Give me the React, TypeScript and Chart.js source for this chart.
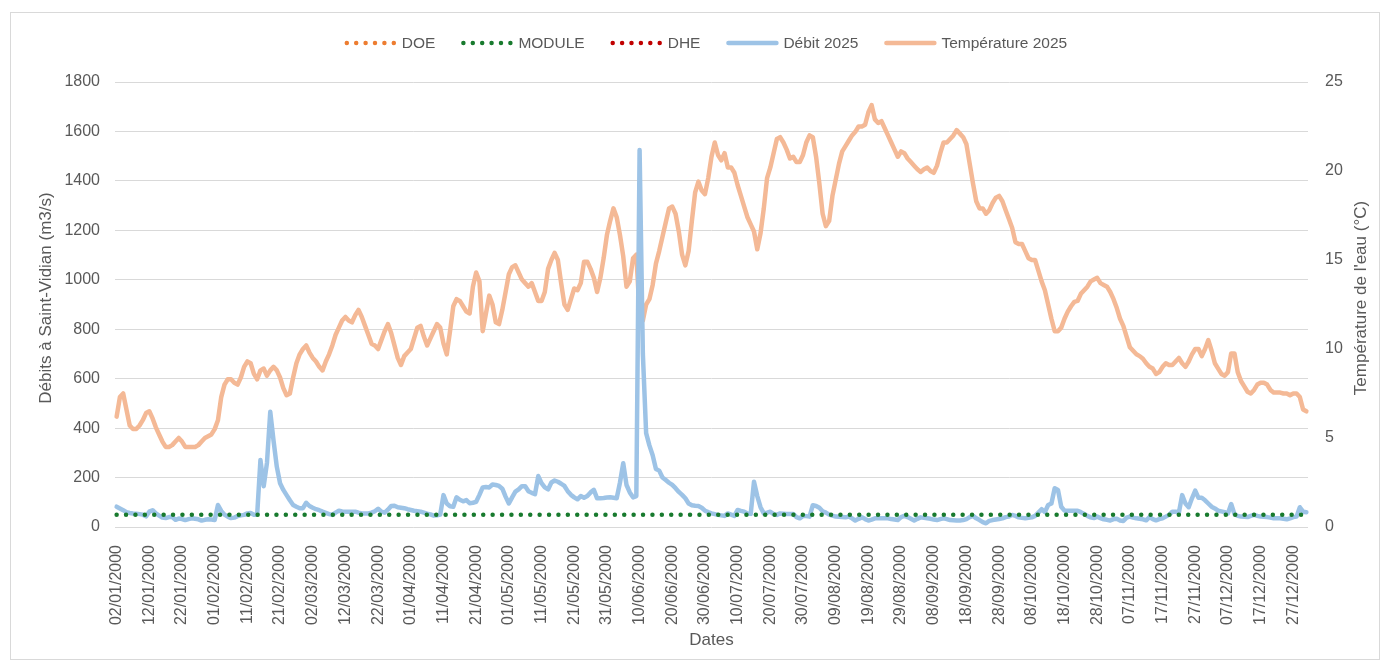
import React, { useEffect, useRef } from "react";
import { Chart, registerables } from "chart.js";

Chart.register(...registerables);

// ---------- DATA ----------
const START_DATE_UTC = Date.UTC(2000, 0, 2); // 02/01/2000
const DAY_COUNT = 365;
const TICK_EVERY = 10;

const LEFT_AXIS = { min: 0, max: 1800, step: 200 };
const RIGHT_AXIS = { min: 0, max: 25, step: 5 };

const MODULE_VALUE = 50;
const DOE_VALUES: (number | null)[] = [];
const DHE_VALUES: (number | null)[] = [];

const DEBIT_2025 = [
  82, 75, 68, 60, 57, 55, 54, 52, 50, 43,
  62, 68, 55, 46, 38, 36, 40, 40, 29, 34,
  32, 28, 32, 35, 33, 31, 26, 29, 31, 30,
  28, 89, 65, 50, 42, 36, 38, 44, 47, 49,
  55, 57, 50, 50, 271, 165, 260, 466, 350, 244,
  177, 150, 129, 108, 89, 82, 76, 76, 98, 85,
  78, 72, 68, 62, 57, 52, 49, 58, 66, 63,
  62, 62, 62, 62, 58, 55, 55, 55, 58, 64,
  74, 62, 58, 70, 85, 86, 80, 78, 76, 72,
  69, 66, 64, 62, 58, 54, 51, 46, 47, 50,
  129, 95, 84, 82, 120, 110, 104, 109, 96, 98,
  102, 130, 160, 162, 160, 172, 170, 166, 155, 123,
  95, 120, 143, 152, 165, 165, 145, 138, 133, 206,
  177, 160, 152, 180, 188, 183, 175, 166, 145, 130,
  120, 112, 125, 118, 125, 140, 150, 116, 116, 117,
  119, 120, 118, 116, 180, 258, 170, 140, 120, 125,
  1525, 700, 380, 330, 290, 235, 228, 200, 190, 179,
  170, 157, 142, 130, 116, 95, 88, 86, 85, 78,
  66, 60, 55, 52, 49, 47, 45, 55, 50, 45,
  69, 65, 62, 55, 53, 183, 125, 80, 55, 58,
  62, 52, 49, 55, 54, 53, 53, 53, 40, 35,
  45, 44, 42, 88, 85, 78, 64, 58, 50, 46,
  42, 41, 40, 39, 42, 35, 26, 33, 39, 32,
  26, 30, 35, 35, 35, 35, 35, 32, 30, 28,
  40, 45, 40, 33, 26, 33, 39, 37, 35, 33,
  30, 28, 32, 35, 32, 28, 27, 26, 26, 28,
  32, 40, 45, 35, 28, 20, 15, 25, 28, 30,
  32, 35, 40, 42, 49, 45, 39, 37, 35, 37,
  39, 45, 58, 72, 60, 89, 95, 157, 150, 82,
  66, 66, 66, 66, 66, 60, 53, 45, 39, 36,
  42, 36, 31, 29, 26, 32, 33, 26, 24, 38,
  42, 38, 35, 33, 31, 27, 40, 32, 27, 32,
  35, 42, 49, 62, 62, 58, 129, 95, 80, 116,
  147, 118, 118, 108, 95, 82, 75, 66, 63, 60,
  55, 93, 52, 45, 42, 41, 40, 45, 49, 45,
  42, 41, 40, 38, 35, 35, 35, 33, 31, 35,
  40, 42, 80, 62, 60,
];

const TEMPERATURE_2025 = [
  6.2, 7.3, 7.5, 6.6, 5.7, 5.5, 5.5, 5.7, 6.0, 6.4,
  6.5, 6.1, 5.6, 5.2, 4.8, 4.5, 4.5, 4.6, 4.8, 5.0,
  4.8, 4.5, 4.5, 4.5, 4.5, 4.6, 4.8, 5.0, 5.1, 5.2,
  5.5, 6.0, 7.3, 8.0, 8.3, 8.3, 8.1, 8.0, 8.4, 9.0,
  9.3, 9.2, 8.6, 8.3, 8.8, 8.9, 8.5, 8.8, 9.0, 8.8,
  8.4, 7.8, 7.4, 7.5, 8.4, 9.2, 9.7, 10.0, 10.2, 9.8,
  9.5, 9.3, 9.0, 8.8, 9.3, 9.7, 10.2, 10.8, 11.2, 11.6,
  11.8, 11.6, 11.5, 11.9, 12.2, 11.8, 11.3, 10.8, 10.3, 10.2,
  10.0, 10.5, 11.0, 11.4, 10.9, 10.2, 9.5, 9.1, 9.6, 9.8,
  10.0, 10.6, 11.2, 11.3, 10.7, 10.2, 10.6, 11.0, 11.4, 11.2,
  10.3, 9.7, 11.0, 12.4, 12.8, 12.7, 12.4, 12.1, 12.0, 13.5,
  14.3, 13.8, 11.0, 12.0, 13.0, 12.5, 11.5, 11.4, 12.2, 13.2,
  14.2, 14.6, 14.7, 14.3, 13.9, 13.7, 13.5, 13.7, 13.2, 12.7,
  12.7, 13.2, 14.5, 15.0, 15.4, 15.0, 13.7, 12.5, 12.2, 12.8,
  13.4, 13.3, 13.7, 14.9, 14.9, 14.5, 14.0, 13.2, 14.0, 15.1,
  16.4, 17.2, 17.9, 17.4, 16.4, 15.2, 13.5, 13.8, 15.1, 15.3,
  12.0, 11.6, 12.5, 12.8, 13.6, 14.8, 15.5, 16.3, 17.1, 17.9,
  18.0, 17.6, 16.6, 15.3, 14.7, 15.5, 17.2, 18.8, 19.4, 18.9,
  18.7, 19.6, 20.8, 21.6, 20.9, 20.6, 21.0, 20.2, 20.2, 19.9,
  19.2, 18.6, 18.0, 17.4, 17.0, 16.6, 15.6, 16.5, 17.9, 19.6,
  20.2, 21.0, 21.8, 21.9, 21.6, 21.2, 20.7, 20.8, 20.5, 20.5,
  20.9, 21.6, 22.0, 21.9, 20.8, 19.3, 17.6, 16.9, 17.2, 18.6,
  19.5, 20.4, 21.1, 21.4, 21.7, 22.0, 22.2, 22.5, 22.5, 22.6,
  23.3, 23.7, 22.9, 22.7, 22.8, 22.4, 22.0, 21.6, 21.2, 20.8,
  21.1, 21.0, 20.7, 20.5, 20.3, 20.1, 19.95, 20.1, 20.2, 20.0,
  19.9, 20.3, 21.0, 21.6, 21.6, 21.8, 22.0, 22.3, 22.1, 21.9,
  21.5, 20.4, 19.3, 18.3, 17.9, 17.9, 17.6, 17.8, 18.2, 18.5,
  18.6, 18.3, 17.8, 17.3, 16.8, 16.0, 15.9, 15.9, 15.5, 15.1,
  15.0, 15.0, 14.4, 13.8, 13.3, 12.5, 11.7, 11.0, 11.0, 11.2,
  11.7, 12.1, 12.4, 12.65, 12.7, 13.1, 13.3, 13.5, 13.8, 13.9,
  14.0, 13.7, 13.6, 13.5, 13.2, 12.8, 12.3, 11.7, 11.3, 10.7,
  10.1, 9.9, 9.7, 9.6, 9.45, 9.2, 9.0, 8.9, 8.6, 8.7,
  9.0, 9.2, 9.1, 9.1, 9.3, 9.5, 9.2, 9.0, 9.3, 9.7,
  10.0, 10.0, 9.6, 10.0, 10.5, 9.9, 9.2, 8.9, 8.6, 8.5,
  8.7, 9.75, 9.75, 8.7, 8.2, 7.9, 7.6, 7.5, 7.7, 8.0,
  8.1, 8.1, 8.0, 7.7, 7.55, 7.55, 7.55, 7.5, 7.5, 7.4,
  7.5, 7.5, 7.3, 6.6, 6.5,
];

const SERIES_NAMES = ["DOE", "MODULE", "DHE", "Débit 2025", "Température 2025"];
const LEFT_TITLE = "Débits à Saint-Vidian (m3/s)";
const RIGHT_TITLE = "Température de l'eau (°C)";
const X_TITLE = "Dates";

// ---------- STYLE ----------
const FONT = '"Liberation Sans", Arial, sans-serif';
const TEXT = "#595959";
const GRID = "#d9d9d9";
const C_DOE = "#ed7d31";
const C_MODULE = "#187a2e";
const C_DHE = "#c00000";
const C_DEBIT = "#9dc3e6";
const C_TEMP = "#f4b996";

function pad2(n: number) {
  return n < 10 ? "0" + n : String(n);
}
function buildDates(): string[] {
  const out: string[] = [];
  for (let i = 0; i < DAY_COUNT; i++) {
    const d = new Date(START_DATE_UTC + i * 86400000);
    out.push(`${pad2(d.getUTCDate())}/${pad2(d.getUTCMonth() + 1)}/${d.getUTCFullYear()}`);
  }
  return out;
}
const DATES = buildDates();

const LEGEND_ITEMS = [
  { label: SERIES_NAMES[0], color: C_DOE, dotted: true },
  { label: SERIES_NAMES[1], color: C_MODULE, dotted: true },
  { label: SERIES_NAMES[2], color: C_DHE, dotted: true },
  { label: SERIES_NAMES[3], color: C_DEBIT, dotted: false },
  { label: SERIES_NAMES[4], color: C_TEMP, dotted: false },
];

const decorPlugin = {
  id: "decor",
  afterDraw(chart: any) {
    const ctx = chart.ctx as CanvasRenderingContext2D;
    const area = chart.chartArea;
    ctx.save();
    // Legend
    ctx.font = `15.5px ${FONT}`;
    const markerW = 52;
    const gapText = 5;
    const gapItem = 26;
    const widths = LEGEND_ITEMS.map((it) => markerW + gapText + ctx.measureText(it.label).width);
    const total = widths.reduce((a, b) => a + b, 0) + gapItem * (LEGEND_ITEMS.length - 1);
    let x = (area.left + area.right) / 2 - 5.5 - total / 2;
    const y = 30;
    LEGEND_ITEMS.forEach((it, i) => {
      ctx.beginPath();
      ctx.strokeStyle = it.color;
      ctx.lineCap = "round";
      if (it.dotted) {
        ctx.setLineDash([0, 9.4]);
        ctx.lineWidth = 4.5;
      } else {
        ctx.setLineDash([]);
        ctx.lineWidth = 4.5;
      }
      ctx.moveTo(x + 2, y);
      ctx.lineTo(x + markerW - 2, y);
      ctx.stroke();
      ctx.setLineDash([]);
      ctx.fillStyle = TEXT;
      ctx.textAlign = "left";
      ctx.textBaseline = "middle";
      ctx.fillText(it.label, x + markerW + gapText, y + 1);
      x += widths[i] + gapItem;
    });
    // Y titles
    const cy = (area.top + area.bottom) / 2 - 6.5;
    ctx.font = `17px ${FONT}`;
    ctx.fillStyle = TEXT;
    ctx.textAlign = "center";
    ctx.textBaseline = "middle";
    ctx.save();
    ctx.translate(area.left - 69, cy);
    ctx.rotate(-Math.PI / 2);
    ctx.fillText(LEFT_TITLE, 0, 0);
    ctx.restore();
    ctx.save();
    ctx.translate(area.right + 53, cy);
    ctx.rotate(-Math.PI / 2);
    ctx.fillText(RIGHT_TITLE, 0, 0);
    ctx.restore();
    ctx.restore();
  },
};

export default function App() {
  const ref = useRef<HTMLCanvasElement | null>(null);
  useEffect(() => {
    if (!ref.current) return;
    const chart = new Chart(ref.current, {
      type: "line",
      data: {
        labels: DATES,
        datasets: [
          {
            label: SERIES_NAMES[0],
            data: DOE_VALUES,
            borderColor: C_DOE,
            borderWidth: 4.5,
            borderDash: [0, 9.4],
            borderCapStyle: "round",
            pointRadius: 0,
            yAxisID: "y",
          },
          {
            label: SERIES_NAMES[1],
            data: [
              { x: DATES[0], y: MODULE_VALUE },
              { x: DATES[DATES.length - 1], y: MODULE_VALUE },
            ] as any,
            borderColor: C_MODULE,
            borderWidth: 4.5,
            borderDash: [0, 9.4],
            borderCapStyle: "round",
            pointRadius: 0,
            yAxisID: "y",
          },
          {
            label: SERIES_NAMES[2],
            data: DHE_VALUES,
            borderColor: C_DHE,
            borderWidth: 4.5,
            borderDash: [0, 9.4],
            borderCapStyle: "round",
            pointRadius: 0,
            yAxisID: "y",
          },
          {
            label: SERIES_NAMES[3],
            data: DEBIT_2025,
            borderColor: C_DEBIT,
            borderWidth: 4.5,
            borderJoinStyle: "round",
            borderCapStyle: "round",
            pointRadius: 0,
            tension: 0,
            yAxisID: "y",
          },
          {
            label: SERIES_NAMES[4],
            data: TEMPERATURE_2025,
            borderColor: C_TEMP,
            borderWidth: 4.5,
            borderJoinStyle: "round",
            borderCapStyle: "round",
            pointRadius: 0,
            tension: 0,
            yAxisID: "y1",
          },
        ],
      },
      options: {
        animation: false,
        responsive: false,
        layout: { padding: { top: 69, left: 0, right: 0, bottom: 0 } },
        plugins: { legend: { display: false }, tooltip: { enabled: false } },
        scales: {
          x: {
            type: "category",
            offset: true,
            grid: { display: false },
            border: { display: false },
            ticks: {
              autoSkip: false,
              maxRotation: 90,
              minRotation: 90,
              padding: 10,
              color: TEXT,
              font: { family: FONT, size: 16 },
              callback: (v: any, i: number) => (i % TICK_EVERY === 0 ? DATES[v] : null),
            },
            title: {
              display: true,
              text: X_TITLE,
              color: TEXT,
              font: { family: FONT, size: 17 },
              padding: { top: 0, bottom: 8 },
            },
            afterFit: (s: any) => {
              s.height = 132;
            },
          },
          y: {
            position: "left",
            min: LEFT_AXIS.min,
            max: LEFT_AXIS.max,
            ticks: {
              stepSize: LEFT_AXIS.step,
              padding: 15,
              color: TEXT,
              font: { family: FONT, size: 16 },
              callback: (v: any) => String(v),
            },
            grid: { color: GRID, lineWidth: 1, drawTicks: false },
            border: { display: false },
            afterFit: (s: any) => {
              s.width = 104;
            },
          },
          y1: {
            position: "right",
            min: RIGHT_AXIS.min,
            max: RIGHT_AXIS.max,
            ticks: {
              stepSize: RIGHT_AXIS.step,
              padding: 17,
              color: TEXT,
              font: { family: FONT, size: 16 },
              callback: (v: any) => String(v),
            },
            grid: { drawOnChartArea: false, drawTicks: false },
            border: { display: false },
            afterFit: (s: any) => {
              s.width = 71;
            },
          },
        },
      } as any,
      plugins: [decorPlugin],
    });
    return () => chart.destroy();
  }, []);

  return (
    <div
      style={{
        position: "absolute",
        left: 10,
        top: 12,
        width: 1370,
        height: 648,
        border: "1px solid #d9d9d9",
        boxSizing: "border-box",
        background: "#fff",
      }}
    >
      <canvas ref={ref} width={1368} height={646} style={{ display: "block", width: 1368, height: 646 }} />
    </div>
  );
}
